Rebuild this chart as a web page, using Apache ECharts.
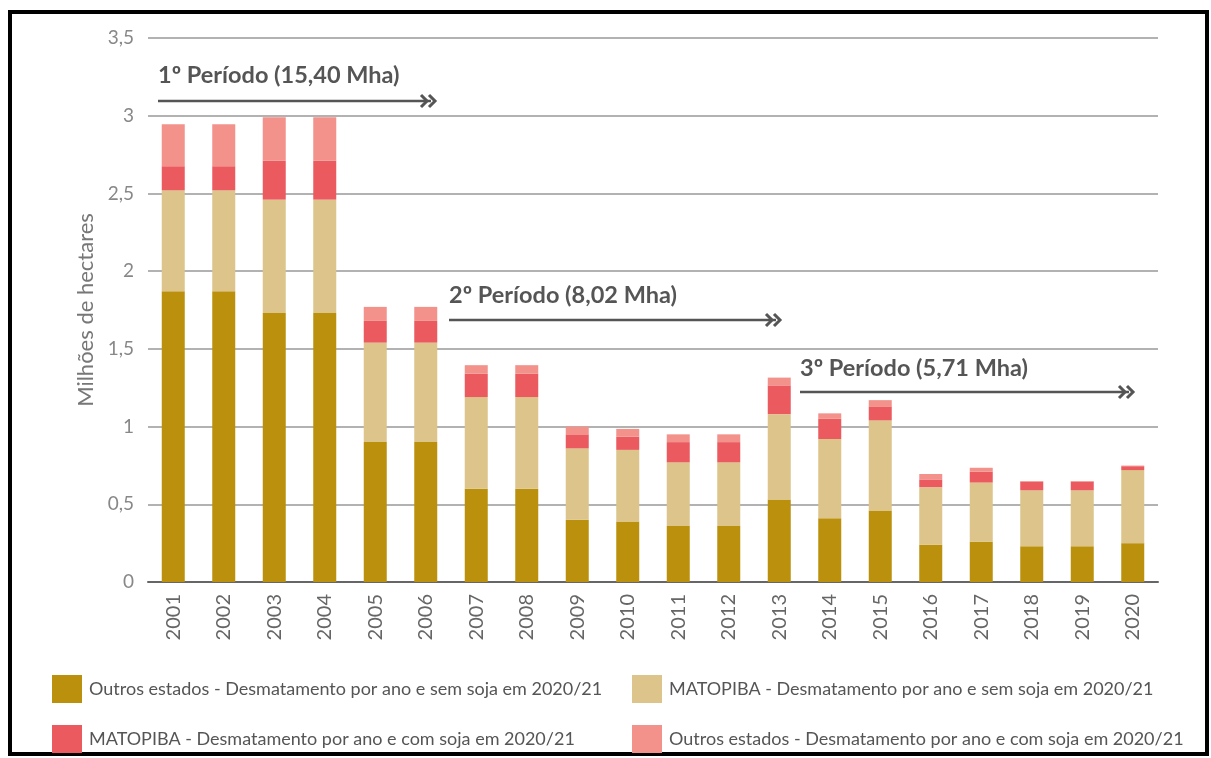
<!DOCTYPE html>
<html>
<head>
<meta charset="utf-8">
<script src="https://cdn.jsdelivr.net/npm/echarts@6/dist/echarts.min.js"></script>
<style>
	html, body { margin: 0; padding: 0; background: #fff; }
	#frame { position: absolute; left: 8px; top: 10px; width: 1193px; height: 738px; border: 4px solid #000; }
	#chart { position: absolute; left: 0; top: 0; width: 1211px; height: 758px; }
</style>
</head>
<body>
<div id="frame"></div>
<div id="chart"></div>
<script>
// anos
var years = ['2001','2002','2003','2004','2005','2006','2007','2008','2009','2010',
	'2011','2012','2013','2014','2015','2016','2017','2018','2019','2020'];
// Outros estados - sem soja
var outrosSem = [1.87,1.87,1.73,1.73,0.90,0.90,0.60,0.60,0.40,0.39,
	0.36,0.36,0.53,0.41,0.46,0.24,0.26,0.23,0.23,0.25];
// MATOPIBA - sem soja
var matopibaSem = [0.65,0.65,0.73,0.73,0.64,0.64,0.59,0.59,0.46,0.46,
	0.41,0.41,0.55,0.51,0.58,0.37,0.38,0.36,0.36,0.47];
// MATOPIBA - com soja
var matopibaCom = [0.155,0.155,0.25,0.25,0.14,0.14,0.15,0.15,0.09,0.085,
	0.13,0.13,0.185,0.13,0.09,0.05,0.07,0.055,0.055,0.025];
// Outros estados - com soja
var outrosCom = [0.27,0.27,0.28,0.28,0.09,0.09,0.055,0.055,0.05,0.05,
	0.05,0.05,0.05,0.035,0.04,0.035,0.025,0.005,0.005,0.004];

var names = [
	'Outros estados - Desmatamento por ano e sem soja em 2020/21',
	'MATOPIBA - Desmatamento por ano e sem soja em 2020/21',
	'MATOPIBA - Desmatamento por ano e com soja em 2020/21',
	'Outros estados - Desmatamento por ano e com soja em 2020/21'
];
var colors = ['#BB900C', '#DDC48B', '#EA5A5F', '#F3918B'];

var FONT = 'Lato';
var TXT = '#555';

function chevrons(x, y) {
	// ponta dupla da seta
	return [
		{type: 'polyline', shape: {points: [[x - 14, y - 6], [x - 8, y], [x - 14, y + 6]]},
			style: {stroke: TXT, lineWidth: 3, fill: null}},
		{type: 'polyline', shape: {points: [[x - 6, y - 6], [x, y], [x - 6, y + 6]]},
			style: {stroke: TXT, lineWidth: 3, fill: null}}
	];
}
function period(label, x1, x2, ty, ly) {
	var els = [
		{type: 'text', left: x1, top: ty, style: {text: label, fill: TXT,
			font: 'bold 23.5px ' + FONT}},
		{type: 'line', shape: {x1: x1, y1: ly, x2: x2 - 4, y2: ly},
			style: {stroke: TXT, lineWidth: 2.5}}
	];
	return els.concat(chevrons(x2, ly));
}

var chart = echarts.init(document.getElementById('chart'));
var series = [outrosSem, matopibaSem, matopibaCom, outrosCom].map(function (d, i) {
	return {
		name: names[i],
		type: 'bar',
		stack: 'total',
		barWidth: 23,
		data: d,
		itemStyle: {color: colors[i]}
	};
});

var legendBase = {
	orient: 'vertical', top: 675, height: 100, padding: 0, itemGap: 22,
	itemWidth: 30, itemHeight: 28, icon: 'rect',
	textStyle: {fontSize: 18, color: TXT, fontFamily: FONT, padding: [0, 0, 0, 2]}
};

var option = {
	animation: false,
	textStyle: {fontFamily: FONT},
	grid: {left: 148, right: 53, top: 38, bottom: 176},
	legend: [
		Object.assign({data: [names[0], names[2]], left: 52}, legendBase),
		Object.assign({data: [names[1], names[3]], left: 632}, legendBase)
	],
	xAxis: {
		type: 'category',
		data: years,
		axisLine: {lineStyle: {color: '#666', width: 2}},
		axisTick: {show: false},
		axisLabel: {rotate: 90, fontSize: 20, color: '#666', margin: 12}
	},
	yAxis: {
		type: 'value',
		min: 0, max: 3.5, interval: 0.5,
		name: 'Milhões de hectares',
		nameLocation: 'middle',
		nameGap: 48,
		nameTextStyle: {fontSize: 22, color: '#777'},
		axisLine: {show: false},
		axisTick: {show: false},
		axisLabel: {fontSize: 19, color: '#888', margin: 14,
			formatter: function (v) { return String(v).replace('.', ','); }},
		splitLine: {lineStyle: {color: '#999', width: 1.5}}
	},
	graphic: [].concat(
		period('1º Período (15,40 Mha)', 158, 435, 63, 101),
		period('2º Período (8,02 Mha)', 449, 780, 283, 320),
		period('3º Período (5,71 Mha)', 800, 1133, 356, 392)
	),
	series: series
};
chart.setOption(option);
</script>
</body>
</html>
